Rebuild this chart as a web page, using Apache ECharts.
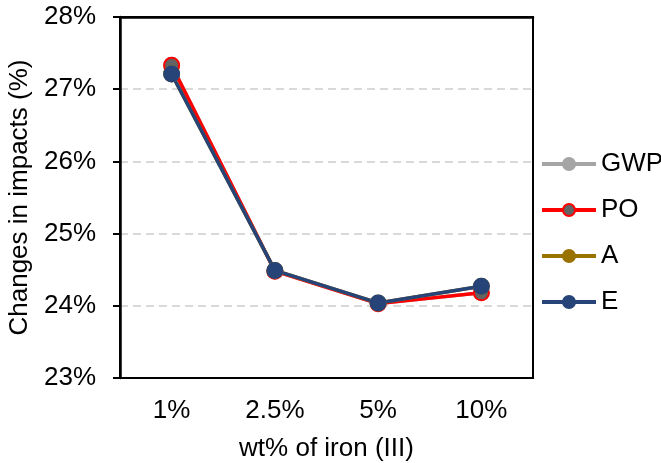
<!DOCTYPE html>
<html>
<head>
<meta charset="utf-8">
<style>
  html, body { margin: 0; padding: 0; background: #fff; }
  #chart { width: 661px; height: 463px; }
</style>
<script src="https://cdn.jsdelivr.net/npm/echarts@6/dist/echarts.min.js"></script>
</head>
<body>
<div id="chart"></div>
<script>
// Iron (III) loading levels on the x axis
const categories = ['1%', '2.5%', '5%', '10%'];

// Relative change in each impact category (fraction, shown as %)
const gwp = [0.2733, 0.2448, 0.2403, 0.2418];
const po  = [0.2733, 0.2448, 0.2403, 0.2418];
const acid = [0.2721, 0.2449, 0.2404, 0.2427];
const eut = [0.2721, 0.2449, 0.2404, 0.2427];

// y-axis range and step (fractions)
const yMin = 0.23, yMax = 0.28, yStep = 0.01;

const font = 'Liberation Sans, Arial, sans-serif';
const fs = 26;

function lineSeries(name, data, lineColor, fillColor, borderColor) {
  return {
    name: name,
    type: 'line',
    data: data,
    symbol: 'circle',
    symbolSize: 15,
    showSymbol: true,
    lineStyle: { color: lineColor, width: 3.5 },
    itemStyle: { color: fillColor, borderColor: borderColor, borderWidth: 2 },
    emphasis: { disabled: true },
    animation: false
  };
}

const series = [
  lineSeries('GWP', gwp, '#a5a5a5', '#a5a5a5', '#a5a5a5'),
  lineSeries('PO', po, '#ff0000', '#636363', '#ff0000'),
  lineSeries('A', acid, '#997300', '#997300', '#997300'),
  lineSeries('E', eut, '#264478', '#264478', '#264478')
];

const chart = echarts.init(document.getElementById('chart'), null, { renderer: 'canvas' });
chart.setOption({
  backgroundColor: '#fff',
  animation: false,
  textStyle: { fontFamily: font },
  grid: {
    left: 120, right: 128, top: 17, bottom: 85,
    outerBoundsMode: 'none',
    containLabel: false,
    show: true, borderColor: '#000', borderWidth: 2, z: 10
  },
  legend: {
    orient: 'vertical',
    left: 540,
    top: 151,
    padding: 0,
    itemWidth: 54,
    itemHeight: 15,
    itemGap: 20,
    lineStyle: { width: 4 },
    textStyle: { fontSize: fs, color: '#000', fontFamily: font },
    data: ['GWP', 'PO', 'A', 'E']
  },
  xAxis: [{
    type: 'category',
    data: categories,
    boundaryGap: true,
    name: 'wt% of iron (III)',
    nameLocation: 'middle',
    nameGap: 58,
    nameTextStyle: { fontSize: fs, color: '#000', fontFamily: font },
    axisLine: { show: true, onZero: false, lineStyle: { color: '#000', width: 2 } },
    axisTick: { show: false },
    axisLabel: { fontSize: fs, color: '#000', margin: 20, fontFamily: font },
    splitLine: { show: false }
  }, {
    // top edge of the plot frame
    type: 'category',
    data: categories,
    position: 'top',
    z: 10,
    axisLine: { show: true, onZero: false, lineStyle: { color: '#000', width: 2.5 } },
    axisTick: { show: false },
    axisLabel: { show: false },
    splitLine: { show: false }
  }],
  yAxis: [{
    type: 'value',
    min: yMin,
    max: yMax,
    interval: yStep,
    name: 'Changes in impacts (%)',
    nameLocation: 'middle',
    nameGap: 84,
    nameRotate: 90,
    nameTextStyle: { fontSize: fs, color: '#000', fontFamily: font },
    axisLine: { show: true, onZero: false, lineStyle: { color: '#000', width: 2.5 } },
    axisTick: { show: true, inside: false, length: 7, lineStyle: { color: '#000', width: 2 } },
    axisLabel: {
      fontSize: fs, color: '#000', margin: 24, fontFamily: font,
      formatter: v => Math.round(v * 100) + '%'
    },
    splitLine: {
      show: true, showMinLine: false, showMaxLine: false,
      lineStyle: { color: '#d9d9d9', width: 2, type: [8, 5] }
    }
  }, {
    // right edge of the plot frame
    type: 'value',
    min: yMin,
    max: yMax,
    interval: yStep,
    position: 'right',
    axisLine: { show: true, onZero: false, lineStyle: { color: '#000', width: 2 } },
    axisTick: { show: false },
    axisLabel: { show: false },
    splitLine: { show: false }
  }],
  series: series
});
</script>
</body>
</html>
